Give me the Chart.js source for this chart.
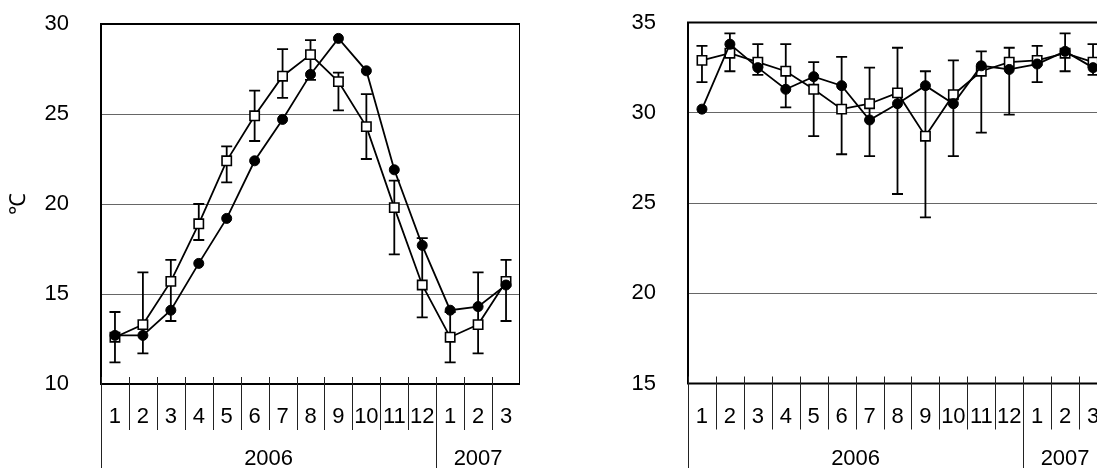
<!DOCTYPE html>
<html><head><meta charset="utf-8">
<script src="https://cdn.jsdelivr.net/npm/chart.js@4"></script>
<style>
html,body{margin:0;padding:0;background:#fff;overflow:hidden;width:1097px;height:468px;position:relative;}
.box{position:absolute;top:0;height:468px;width:520px;}
#b1{left:0;}
#b2{left:587px;}
</style></head><body>
<div class="box" id="b1"><canvas id="c1" width="520" height="468"></canvas></div>
<div class="box" id="b2"><canvas id="c2" width="520" height="468"></canvas></div>
<script>
// Categories
const months = ['1','2','3','4','5','6','7','8','9','10','11','12','1','2','3'];
const yearLabels = ['2006','2007'];
const yearSpans = [12, 3];

// Left chart (°C)
const leftMeasured   = [12.7,12.7,14.1,16.7,19.2,22.4,24.7,27.2,29.2,27.4,21.9,17.7,14.1,14.3,15.5];
const leftNormal     = [12.6,13.3,15.7,18.9,22.4,24.9,27.1,28.3,26.8,24.3,19.8,15.5,12.6,13.3,15.7];
const leftNormalHigh = [14.0,16.2,16.9,20.0,23.2,26.3,28.6,29.1,27.3,26.1,21.3,18.1,14.0,16.2,16.9];
const leftNormalLow  = [11.2,11.7,13.5,18.0,21.2,23.5,25.9,26.9,25.2,22.5,17.2,13.7,11.2,11.7,13.5];
const leftTicks = [10,15,20,25,30];

// Right chart
const rightMeasured   = [30.2,33.8,32.5,31.3,32.0,31.5,29.6,30.5,31.5,30.5,32.6,32.4,32.7,33.4,32.5];
const rightNormal     = [32.9,33.3,32.8,32.3,31.3,30.2,30.5,31.1,28.7,31.0,32.3,32.8,32.9,33.3,32.8];
const rightNormalHigh = [33.7,34.4,33.8,33.8,32.8,33.1,32.5,33.6,32.3,32.9,33.4,33.6,33.7,34.4,33.8];
const rightNormalLow  = [31.7,32.3,32.1,30.3,28.7,27.7,27.6,25.5,24.2,27.6,28.9,29.9,31.7,32.3,32.1];
const rightTicks = [15,20,25,30,35];

const FONT = "'Liberation Sans','Arial',sans-serif";
const FSIZE = 22;
const fnt = {family: FONT, size: FSIZE};

function zeroPad(s) { s.paddingTop = 0; s.paddingBottom = 0; s.paddingLeft = 0; s.paddingRight = 0; }

const decor = {
  id: 'decor',
  beforeDatasetsDraw(chart) {
    const {ctx, chartArea: a, scales: {x, y}} = chart;
    ctx.save();
    // error bars
    chart.data.datasets.forEach(ds => {
      if (!ds.errHigh) return;
      ctx.strokeStyle = '#000';
      ctx.lineWidth = 1.8;
      ds.errHigh.forEach((hi, i) => {
        const lo = ds.errLow[i];
        const xp = x.getPixelForValue(i);
        const yh = y.getPixelForValue(hi);
        const yl = y.getPixelForValue(lo);
        ctx.beginPath();
        ctx.moveTo(xp, yh); ctx.lineTo(xp, yl);
        ctx.moveTo(xp - 5.5, yh); ctx.lineTo(xp + 5.5, yh);
        ctx.moveTo(xp - 5.5, yl); ctx.lineTo(xp + 5.5, yl);
        ctx.stroke();
      });
    });
    // plot border
    ctx.strokeStyle = '#000';
    ctx.lineWidth = 2;
    ctx.strokeRect(a.left, a.top, a.right - a.left, a.bottom - a.top);
    ctx.restore();
  },
  afterDraw(chart) {
    const {ctx, chartArea: a, scales: {x}} = chart;
    ctx.save();
    ctx.strokeStyle = '#222';
    ctx.lineWidth = 1;
    const n = chart.data.labels.length;
    const longIdx = [0];
    let acc = 0;
    yearSpans.forEach(s => { acc += s; longIdx.push(acc); });
    for (let i = 0; i <= n; i++) {
      const xb = Math.round(x.getPixelForValue(i - 0.5)) + 0.5;
      ctx.beginPath();
      ctx.moveTo(xb, a.bottom - 7);
      ctx.lineTo(xb, longIdx.includes(i) ? chart.height : a.bottom + 46);
      ctx.stroke();
    }
    // year labels
    ctx.fillStyle = '#000';
    ctx.font = FSIZE + "px " + FONT;
    ctx.textAlign = 'center';
    ctx.textBaseline = 'middle';
    let start = 0;
    yearLabels.forEach((lab, k) => {
      const x0 = x.getPixelForValue(start - 0.5);
      const x1 = x.getPixelForValue(start + yearSpans[k] - 0.5);
      ctx.fillText(lab, (x0 + x1) / 2, a.bottom + 75);
      start += yearSpans[k];
    });
    ctx.restore();
  }
};

function makeChart(id, measured, normal, hi, lo, ticks, title, topPad, xHeight) {
  return new Chart(document.getElementById(id), {
    type: 'line',
    data: {
      labels: months,
      datasets: [
        {data: measured, borderColor: '#000', borderWidth: 1.8, pointStyle: 'circle', pointRadius: 5,
         pointBackgroundColor: '#000', pointBorderColor: '#000', pointBorderWidth: 1, tension: 0},
        {data: normal, errHigh: hi, errLow: lo, borderColor: '#000', borderWidth: 1.8, pointStyle: 'rect', pointRadius: 6.6,
         pointBackgroundColor: '#fff', pointBorderColor: '#000', pointBorderWidth: 1.6, tension: 0}
      ]
    },
    options: {
      responsive: false, animation: false, devicePixelRatio: 1,
      layout: {autoPadding: false, padding: {top: topPad, right: 0, bottom: 0, left: 0}},
      plugins: {legend: {display: false}, tooltip: {enabled: false}},
      scales: {
        x: {
          type: 'category', offset: true,
          grid: {display: false}, border: {display: false},
          ticks: {font: fnt, color: '#000', padding: 12, maxRotation: 0, autoSkip: false},
          afterFit(s) { s.height = xHeight; zeroPad(s); }
        },
        y: {
          min: ticks[0], max: ticks[ticks.length - 1],
          afterBuildTicks(s) { s.ticks = ticks.map(v => ({value: v})); },
          ticks: {font: fnt, color: '#000', padding: 32},
          grid: {color: '#666', lineWidth: 1, drawTicks: false},
          border: {display: false},
          title: {display: !!title, text: title, font: fnt, color: '#000', padding: 6},
          afterFit(s) { s.width = 101; zeroPad(s); }
        }
      }
    },
    plugins: [decor]
  });
}

makeChart('c1', leftMeasured, leftNormal, leftNormalHigh, leftNormalLow, leftTicks, '℃', 24, 84);
makeChart('c2', rightMeasured, rightNormal, rightNormalHigh, rightNormalLow, rightTicks, '', 22.5, 84.5);
</script>
</body></html>
